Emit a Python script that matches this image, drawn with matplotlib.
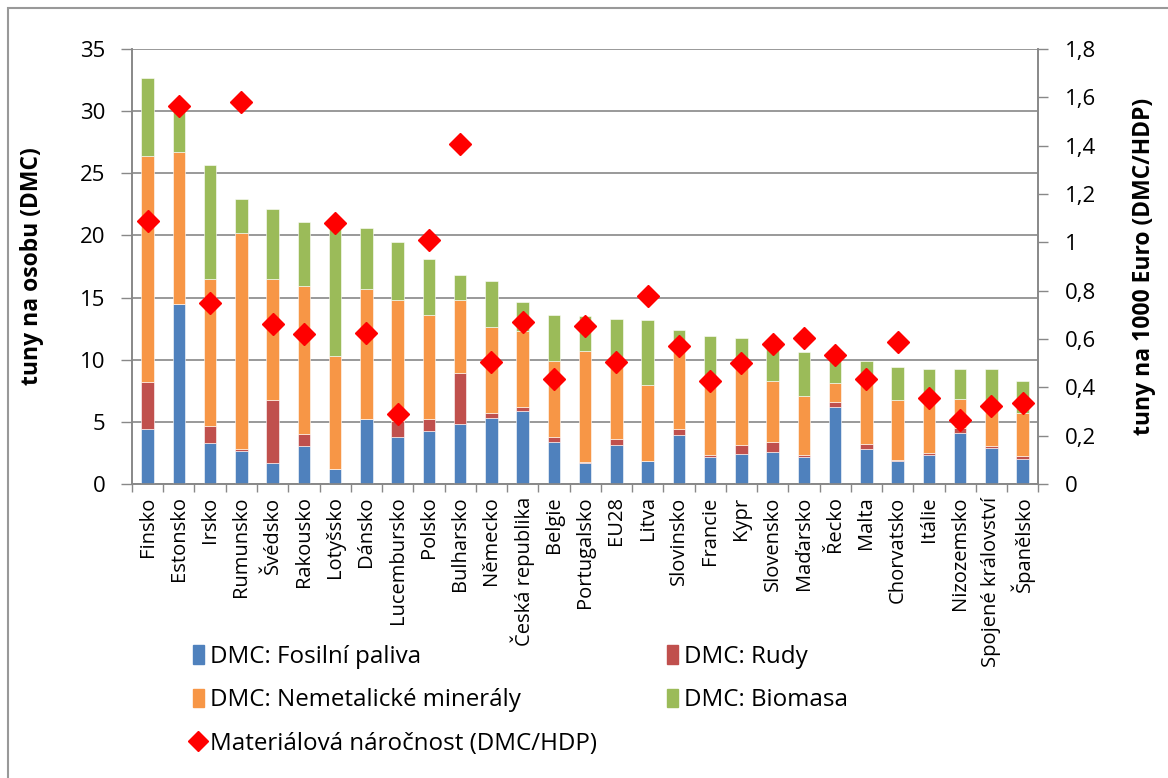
"""
DMC v zemích EU - skládané sloupce + materiálová náročnost na pravé ose
"""

import matplotlib.pyplot as plt
import matplotlib.patches as mpatches
from matplotlib.lines import Line2D
from matplotlib.ticker import FuncFormatter, MultipleLocator
import numpy as np

plt.rcParams['font.family'] = ['Open Sans', 'DejaVu Sans']

# Data
zeme = ['Finsko', 'Estonsko', 'Irsko', 'Rumunsko', 'Švédsko', 'Rakousko', 'Lotyšsko',
        'Dánsko', 'Lucembursko', 'Polsko', 'Bulharsko', 'Německo', 'Česká republika',
        'Belgie', 'Portugalsko', 'EU28', 'Litva', 'Slovinsko', 'Francie', 'Kypr',
        'Slovensko', 'Maďarsko', 'Řecko', 'Malta', 'Chorvatsko', 'Itálie',
        'Nizozemsko', 'Spojené království', 'Španělsko']

fosilni = [4.42, 14.5, 3.27, 2.63, 1.72, 3.06, 1.18, 5.23, 3.78, 4.24, 4.8, 5.28, 5.85,
           3.35, 1.66, 3.16, 1.82, 3.91, 2.15, 2.44, 2.6, 2.2, 6.22, 2.84, 1.82, 2.3,
           4.13, 2.92, 1.98]
rudy = [3.81, 0.0, 1.43, 0.16, 5.04, 0.94, 0.0, 0.0, 1.3, 0.99, 4.16, 0.46, 0.37,
        0.45, 0.08, 0.49, 0.0, 0.49, 0.21, 0.7, 0.8, 0.1, 0.35, 0.38, 0.08, 0.22,
        0.4, 0.16, 0.3]
nemetalicke = [18.17, 12.2, 11.8, 17.38, 9.74, 11.96, 9.12, 10.43, 9.72, 8.34, 5.84,
               6.86, 6.11, 6.07, 8.96, 6.59, 6.12, 6.25, 5.74, 6.3, 4.89, 4.78, 1.55,
               4.88, 4.83, 3.97, 2.33, 2.87, 3.41]
biomasa = [6.26, 3.4, 9.16, 2.73, 5.6, 5.12, 10.4, 4.94, 4.7, 4.53, 2.0, 3.73, 2.27,
           3.7, 2.84, 3.06, 5.26, 1.75, 3.83, 2.31, 3.31, 3.52, 2.18, 1.77, 2.68, 2.79,
           2.37, 3.28, 2.6]
narocnost = [1.088, 1.564, 0.748, 1.58, 0.661, 0.62, 1.08, 0.626, 0.291, 1.011, 1.408,
             0.503, 0.67, 0.433, 0.654, 0.503, 0.778, 0.571, 0.425, 0.499, 0.578,
             0.603, 0.534, 0.434, 0.588, 0.355, 0.265, 0.323, 0.334]

barvy = ['#4F81BD', '#C0504D', '#F79646', '#9BBB59']
seda = '#888888'

fig = plt.figure(figsize=(11.68, 7.78), dpi=100)
ax = fig.add_axes([0.113, 0.378, 0.776, 0.559])
ax2 = ax.twinx()

x = np.arange(len(zeme))
dno = np.zeros(len(zeme))
for hodnoty, barva in zip([fosilni, rudy, nemetalicke, biomasa], barvy):
    ax.bar(x, hodnoty, 0.4, bottom=dno, color=barva, edgecolor='white',
           linewidth=0.4, zorder=3)
    dno += np.array(hodnoty)

ax2.plot(x, narocnost, linestyle='none', marker='D', markersize=11,
         color='#FF0000', zorder=4)

# Osy
ax.set_xlim(-0.5, len(zeme) - 0.5)
ax.set_ylim(0, 35)
ax2.set_ylim(0, 1.8)
ax.yaxis.set_major_locator(MultipleLocator(5))
ax2.yaxis.set_major_locator(MultipleLocator(0.2))
ax2.yaxis.set_major_formatter(FuncFormatter(
    lambda v, p: ('%g' % round(v, 1)).replace('.', ',')))

ax.set_xticks(x)
ax.set_xticklabels(zeme, rotation=90, fontsize=14.5)
ax.set_xticks(np.arange(-0.5, len(zeme)), minor=True)
ax.tick_params(axis='x', which='major', length=0, pad=9)
ax.tick_params(axis='x', which='minor', length=6, color=seda, width=1)
ax.tick_params(axis='y', length=8, color=seda, width=1, labelsize=16, pad=11)
ax2.tick_params(axis='y', length=7, color=seda, width=1, labelsize=16, pad=12)

ax.yaxis.grid(True, color=seda, linewidth=1.2, zorder=0)
ax.set_axisbelow(True)
for osa in (ax, ax2):
    osa.spines['top'].set_visible(False)
    for s in ('left', 'right', 'bottom'):
        osa.spines[s].set_color(seda)
        osa.spines[s].set_linewidth(1.2)

ax.set_ylabel('tuny na osobu (DMC)', fontsize=16.5, fontweight='bold', labelpad=26)
ax2.set_ylabel('tuny na 1000 Euro (DMC/HDP)', fontsize=16.5, fontweight='bold',
               labelpad=26)

# Legenda
h = [mpatches.Patch(color=barvy[0]), mpatches.Patch(color=barvy[2]),
     Line2D([], [], linestyle='none', marker='D', markersize=10, color='#FF0000'),
     mpatches.Patch(color=barvy[1]), mpatches.Patch(color=barvy[3])]
popisky = ['DMC: Fosilní paliva', 'DMC: Nemetalické minerály',
           'Materiálová náročnost (DMC/HDP)', 'DMC: Rudy', 'DMC: Biomasa']
fig.legend(h, popisky, ncol=2, loc='upper left', bbox_to_anchor=(0.1465, 0.199),
           frameon=False, fontsize=17.4, handlelength=0.45, handleheight=0.8,
           handletextpad=0.25, labelspacing=0.8, columnspacing=2.9)

# Rámeček kolem grafu
fig.patches.append(mpatches.Rectangle((8 / 1168, -0.1), 1.2, 1 - 8 / 778 + 0.1,
                                      transform=fig.transFigure, fill=False,
                                      edgecolor='#999999', linewidth=1.5))

plt.savefig('out.png', dpi=100)
plt.close()
